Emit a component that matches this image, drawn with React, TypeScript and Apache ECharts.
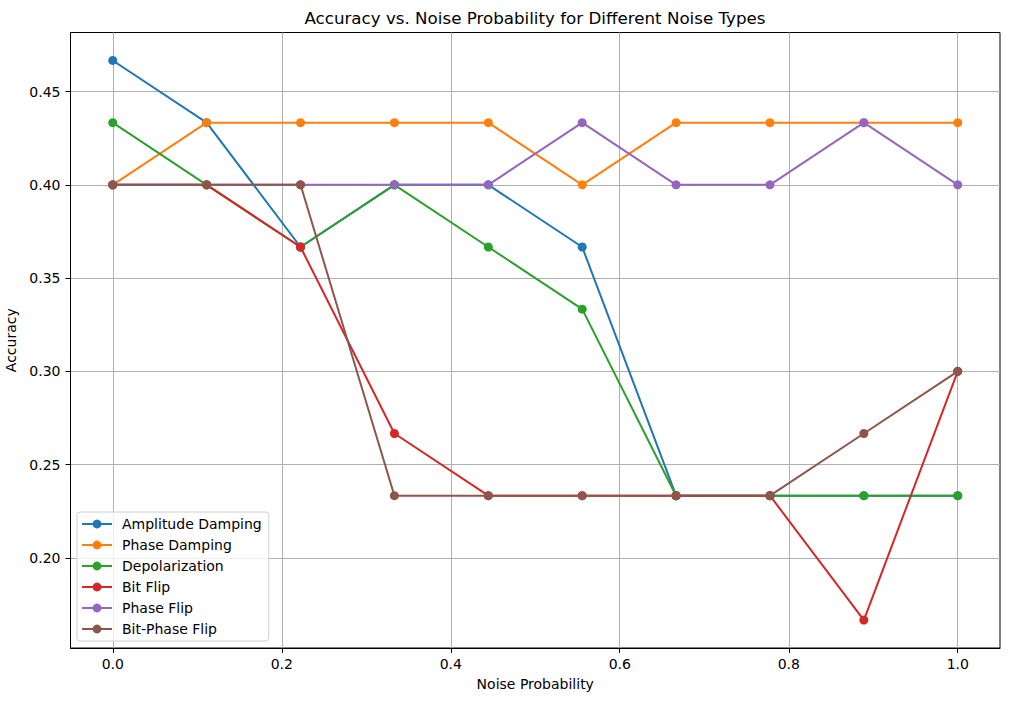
import React, { useEffect, useRef } from "react";
import * as echarts from "echarts";

const noiseProbabilities = [0, 1 / 9, 2 / 9, 3 / 9, 4 / 9, 5 / 9, 6 / 9, 7 / 9, 8 / 9, 1];

const amplitudeDamping = [14 / 30, 13 / 30, 11 / 30, 12 / 30, 12 / 30, 11 / 30, 7 / 30, 7 / 30, 7 / 30, 7 / 30];
const phaseDamping = [12 / 30, 13 / 30, 13 / 30, 13 / 30, 13 / 30, 12 / 30, 13 / 30, 13 / 30, 13 / 30, 13 / 30];
const depolarization = [13 / 30, 12 / 30, 11 / 30, 12 / 30, 11 / 30, 10 / 30, 7 / 30, 7 / 30, 7 / 30, 7 / 30];
const bitFlip = [12 / 30, 12 / 30, 11 / 30, 8 / 30, 7 / 30, 7 / 30, 7 / 30, 7 / 30, 5 / 30, 9 / 30];
const phaseFlip = [12 / 30, 12 / 30, 12 / 30, 12 / 30, 12 / 30, 13 / 30, 12 / 30, 12 / 30, 13 / 30, 12 / 30];
const bitPhaseFlip = [12 / 30, 12 / 30, 12 / 30, 7 / 30, 7 / 30, 7 / 30, 7 / 30, 7 / 30, 8 / 30, 9 / 30];

const seriesNames = ["Amplitude Damping", "Phase Damping", "Depolarization", "Bit Flip", "Phase Flip", "Bit-Phase Flip"];
const seriesValues = [amplitudeDamping, phaseDamping, depolarization, bitFlip, phaseFlip, bitPhaseFlip];
const colors = ["#1f77b4", "#ff7f0e", "#2ca02c", "#d62728", "#9467bd", "#8c564b"];

const xTicks = [0, 0.2, 0.4, 0.6, 0.8, 1.0];
const yTicks = [0.2, 0.25, 0.3, 0.35, 0.4, 0.45];

const FONT = "DejaVu Sans";

export default function App() {
  const ref = useRef<HTMLDivElement>(null);
  useEffect(() => {
    if (!ref.current) return;
    const chart = echarts.init(ref.current, undefined, { renderer: "svg" });
    const all = seriesValues.flat();
    const yMinD = Math.min(...all);
    const yMaxD = Math.max(...all);
    const yPad = (yMaxD - yMinD) * 0.05;
    const xMinD = Math.min(...noiseProbabilities);
    const xMaxD = Math.max(...noiseProbabilities);
    const xPad = (xMaxD - xMinD) * 0.05;

    const axisCommon = {
      axisLine: { show: true, onZero: false, lineStyle: { color: "#000", width: 1 } },
      axisTick: { show: true, length: 5, lineStyle: { color: "#000", width: 1 } },
      splitLine: { show: true, lineStyle: { color: "#b0b0b0", width: 1 } },
      nameTextStyle: { fontFamily: FONT, fontSize: 14, color: "#000" },
    };

    chart.setOption({
      animation: false,
      backgroundColor: "#fff",
      title: {
        text: "Accuracy vs. Noise Probability for Different Noise Types",
        left: 535,
        textAlign: "center",
        top: 9,
        padding: 0,
        textStyle: { fontFamily: FONT, fontSize: 16.7, fontWeight: "normal", color: "#000" },
      },
      grid: {
        left: 70.5,
        top: 32.5,
        width: 929.5,
        height: 615.5,
        show: true,
        borderColor: "#000",
        borderWidth: 1,
        backgroundColor: "transparent",
        containLabel: false,
        outerBoundsMode: "none",
      },
      legend: {
        orient: "vertical",
        left: 77,
        top: 512,
        padding: [5, 7, 5, 4],
        itemWidth: 30,
        itemHeight: 11,
        itemGap: 7,
        backgroundColor: "rgba(255,255,255,0.8)",
        borderColor: "#d0d0d0",
        borderWidth: 1,
        borderRadius: 3,
        textStyle: { fontFamily: FONT, fontSize: 14, color: "#000", lineHeight: 14, padding: [0, 0, 0, 5] },
        data: seriesNames,
      },
      xAxis: {
        type: "value",
        min: xMinD - xPad,
        max: xMaxD + xPad,
        name: "Noise Probability",
        nameLocation: "middle",
        nameGap: 29,
        ...axisCommon,
        axisTick: { ...axisCommon.axisTick, customValues: xTicks },
        axisLabel: {
          customValues: xTicks,
          formatter: (v: number) => v.toFixed(1),
          fontFamily: FONT,
          fontSize: 14,
          color: "#000",
          margin: 9,
        },
      },
      yAxis: {
        type: "value",
        min: yMinD - yPad,
        max: yMaxD + yPad,
        name: "Accuracy",
        nameLocation: "middle",
        nameGap: 49,
        nameRotate: 90,
        ...axisCommon,
        axisTick: { ...axisCommon.axisTick, customValues: yTicks },
        axisLabel: {
          customValues: yTicks,
          formatter: (v: number) => v.toFixed(2),
          fontFamily: FONT,
          fontSize: 14,
          color: "#000",
          margin: 10,
        },
      },
      series: seriesNames.map((name, i) => ({
        name,
        type: "line",
        data: noiseProbabilities.map((x, j) => [x, seriesValues[i][j]]),
        symbol: "circle",
        symbolSize: 9,
        showSymbol: true,
        color: colors[i],
        lineStyle: { color: colors[i], width: 2 },
        itemStyle: { color: colors[i] },
        emphasis: { disabled: true },
        z: 2 + i * 0.01,
      })),
    });
    return () => chart.dispose();
  }, []);
  return <div ref={ref} style={{ position: "fixed", left: 0, top: 0, width: 1009, height: 701 }} />;
}
